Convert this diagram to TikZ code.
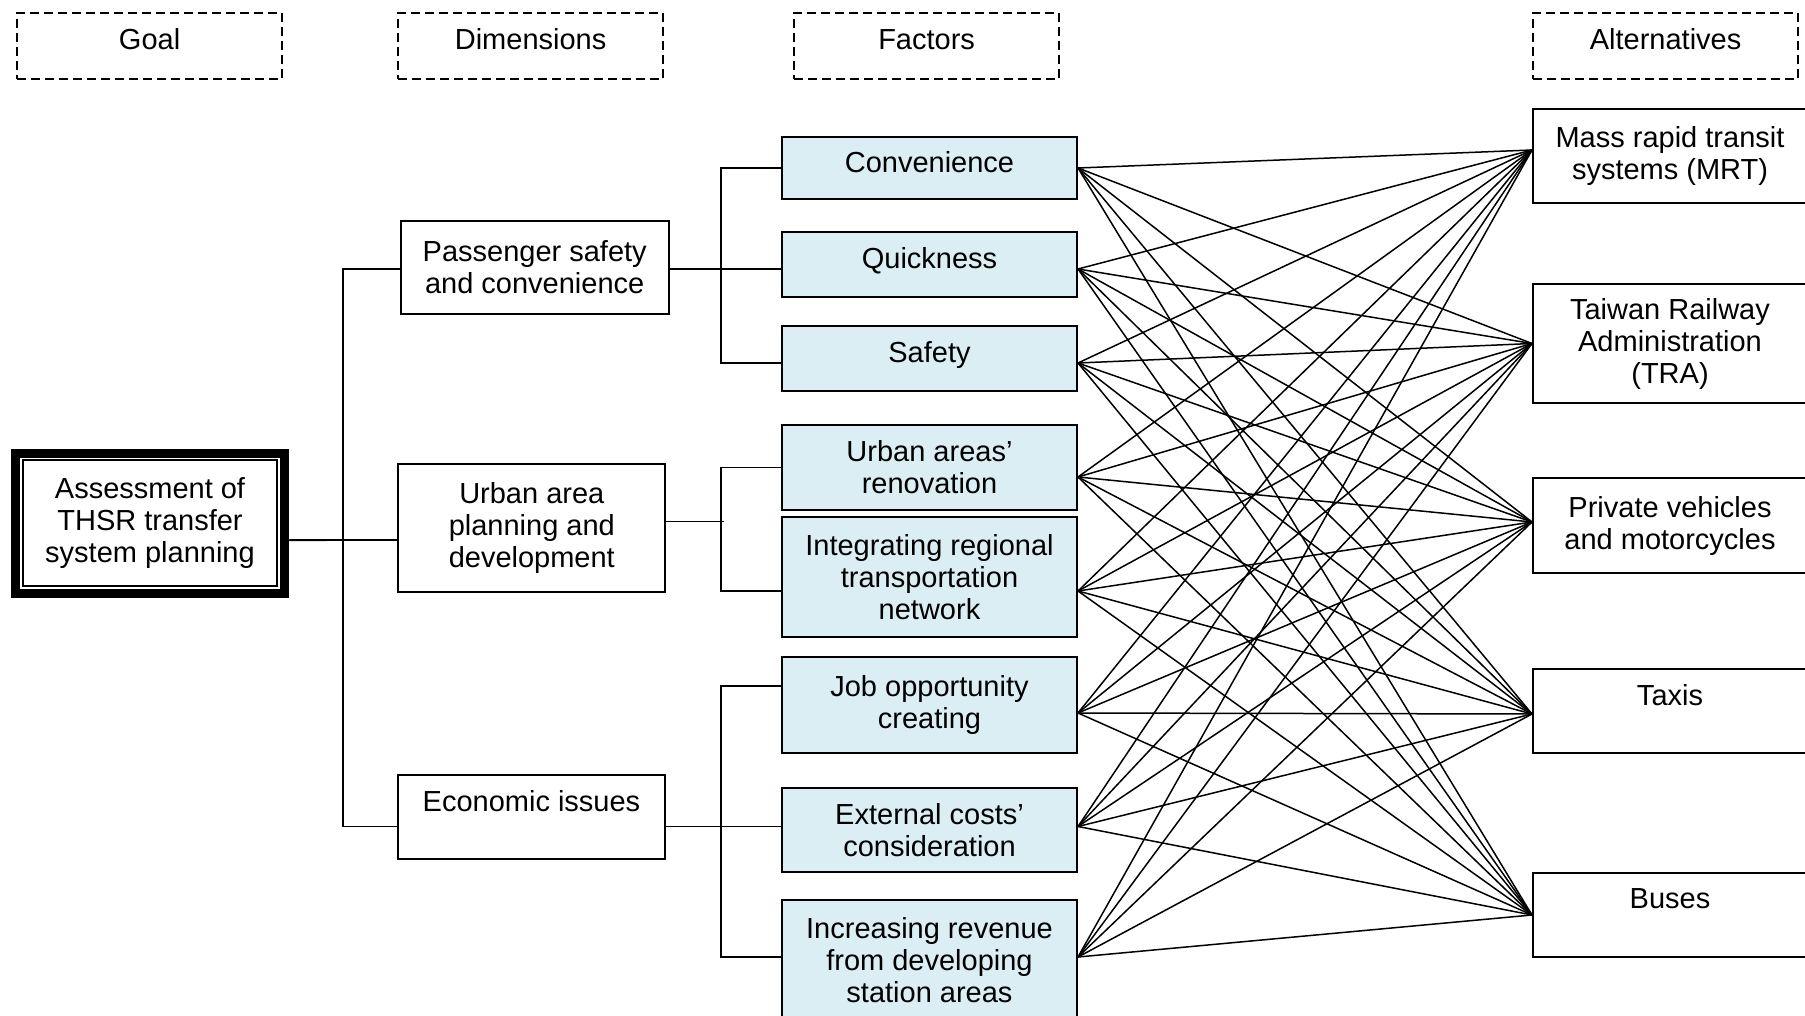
\documentclass[tikz,border=0pt]{standalone}
\usepackage{fontspec}
\setmainfont{Liberation Sans}
\newcommand\dgfont{\fontsize{14.5}{16}\selectfont}
\definecolor{facblue}{RGB}{219,238,244}
\begin{document}
\begin{tikzpicture}[x=0.5pt,y=-0.5pt,
  hdr/.style={draw, dashed, dash pattern=on 4.5pt off 2.5pt, line width=1pt, minimum width=132.35pt, minimum height=33.35pt, inner sep=0pt, font=\dgfont, text height=10.5pt, text depth=7pt},
  box/.style={draw, line width=1pt, inner sep=0pt, align=center, font=\dgfont},
  fac/.style={box, fill=facblue, minimum width=147.5pt},
  oneline/.style={text height=10.5pt, text depth=6pt},
  dim/.style={box},
  alt/.style={box, minimum width=137pt},
  link/.style={line width=0.9pt},
  mesh/.style={line width=0.75pt}]
\useasboundingbox (0,0) rectangle (1805,1016);

% headers
\node[hdr] (hg) at (149.6,46) {Goal};
\node[hdr] (hd) at (530.6,46) {Dimensions};
\node[hdr] (hf) at (926.6,46) {Factors};
\node[hdr] (ha) at (1665.6,46) {Alternatives};

% goal
\node[align=center, font=\dgfont, minimum width=138.3pt, minimum height=74.15pt, inner sep=0pt] (goal) at (150,523.15) {Assessment of\\THSR transfer\\system planning};
\draw[line width=4.5pt] ([shift={(4.5,4.5)}]goal.north west) rectangle ([shift={(-4.5,-4.5)}]goal.south east);
\draw[line width=0.85pt] ([shift={(11.6,11.6)}]goal.north west) rectangle ([shift={(-11.6,-11.6)}]goal.south east);

% dimensions
\node[dim, minimum width=134.1pt, minimum height=46.5pt] (d1) at (534.7,267.5) {Passenger safety\\and convenience};
\node[dim, minimum width=133.5pt, minimum height=64pt] (d2) at (531.8,528) {Urban area\\planning and\\development};
\node[dim, minimum width=133.5pt, minimum height=42pt] (d3) at (531.5,817) {Economic issues\\\mbox{}};

% factors
\node[fac, oneline, minimum height=31pt] (f1) at (929.5,168) {Convenience};
\node[fac, oneline, minimum height=32.5pt] (f2) at (929.5,264.5) {Quickness};
\node[fac, oneline, minimum height=32.5pt] (f3) at (929.5,358.5) {Safety};
\node[fac, minimum height=42.5pt] (f4) at (929.5,467.5) {Urban areas’\\renovation};
\node[fac, minimum height=60pt] (f5) at (929.5,577) {Integrating regional\\transportation\\network};
\node[fac, minimum height=48pt] (f6) at (929.5,705) {Job opportunity\\creating};
\node[fac, minimum height=42pt] (f7) at (929.5,830) {External costs’\\consideration};
\node[fac, minimum height=60pt] (f8) at (929.5,960) {Increasing revenue\\from developing\\station areas};

% alternatives
\node[alt, minimum height=47pt] (a1) at (1670,156) {Mass rapid transit\\systems (MRT)};
\node[alt, minimum height=59.5pt] (a2) at (1670,343.5) {Taiwan Railway\\Administration\\(TRA)};
\node[alt, minimum height=47.5pt] (a3) at (1670,525.5) {Private vehicles\\and motorcycles};
\node[alt, minimum height=42pt] (a4) at (1670,711) {Taxis\\\mbox{}};
\node[alt, minimum height=42pt] (a5) at (1670,915) {Buses\\\mbox{}};

% tree connectors
\draw[link] ([yshift=-8.5pt]goal.east) -- ([yshift=-6pt]d2.west);
\draw[link] ([yshift=-0.75pt]d1.west) -- ++(-56.6,0) |- ([yshift=-4.75pt]d3.west);
\draw[link] ([yshift=-0.75pt]d1.east) -- ([yshift=-2.25pt]f2.west);
\draw[link] (f1.west) -- ++(-59.7,0) |- ([yshift=-2.25pt]f3.west);
\draw[link] ([yshift=3.25pt]d2.east) -- ++(57.7,0);
\draw[link] (f4.west) -- ++(-59.7,0) |- ([yshift=-7pt]f5.west);
\draw[link] ([yshift=-4.75pt]d3.east) -- ([yshift=1.75pt]f7.west);
\draw[link] ([yshift=9.5pt]f6.west) -- ++(-59.7,0) |- ([yshift=1.5pt]f8.west);

% mesh
\coordinate (r1) at (f1.east);
\coordinate (r2) at ([yshift=-2.25pt]f2.east);
\coordinate (r3) at ([yshift=-2.25pt]f3.east);
\coordinate (r4) at ([yshift=-4.75pt]f4.east);
\coordinate (r5) at ([yshift=-7pt]f5.east);
\coordinate (r6) at ([yshift=-4pt]f6.east);
\coordinate (r7) at ([yshift=1.75pt]f7.east);
\coordinate (r8) at ([yshift=1.5pt]f8.east);
\coordinate (l1) at ([yshift=3pt]a1.west);
\coordinate (l2) at (a2.west);
\coordinate (l3) at ([yshift=1.75pt]a3.west);
\coordinate (l4) at ([yshift=-1.5pt]a4.west);
\coordinate (l5) at (a5.west);
\foreach \i in {1,...,8}{
  \foreach \j in {1,...,5}{
    \draw[mesh] (r\i) -- (l\j);
  }
}
\end{tikzpicture}
\end{document}
